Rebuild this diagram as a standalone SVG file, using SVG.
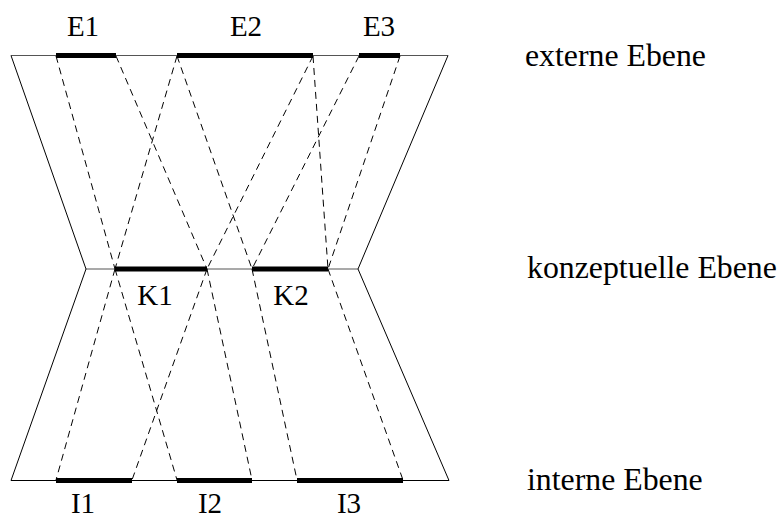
<svg xmlns="http://www.w3.org/2000/svg" width="779" height="519" viewBox="0 0 779 519">
<style>
.frame{stroke:#000;stroke-width:1;fill:none}
.lvl{stroke:#555;stroke-width:1.2;fill:none}
.bar{stroke:#000;stroke-width:5;fill:none}
.map{stroke:#000;stroke-width:1;stroke-dasharray:7 5;fill:none}
.t{font-family:'Liberation Serif','Tinos','Times New Roman','DejaVu Serif',serif;font-size:29px;fill:#000}
.lab{text-anchor:middle}
.lv{font-size:31.8px}
</style>
<rect width="779" height="519" fill="#fff"/>
<g id="frame">
<line class="lvl" x1="11" y1="55.5" x2="448" y2="55.5"/>
<line class="lvl" x1="86" y1="269" x2="358" y2="269"/>
<line class="frame" x1="11" y1="480.5" x2="449" y2="480.5"/>
<polyline class="frame" points="11,55.5 86,269 11,480.5"/>
<polyline class="frame" points="448,55.5 358,269 449,480.5"/>
</g>
<g id="connectors">
<line class="map" x1="56" y1="56" x2="115" y2="269"/>
<line class="map" x1="116" y1="56" x2="207" y2="269"/>
<line class="map" x1="177" y1="56" x2="115" y2="269"/>
<line class="map" x1="177" y1="56" x2="252" y2="269"/>
<line class="map" x1="313" y1="56" x2="207" y2="269"/>
<line class="map" x1="313" y1="56" x2="328" y2="269"/>
<line class="map" x1="359" y1="56" x2="252" y2="269"/>
<line class="map" x1="400" y1="56" x2="328" y2="269"/>
<line class="map" x1="115" y1="269" x2="56" y2="480"/>
<line class="map" x1="115" y1="269" x2="177" y2="480"/>
<line class="map" x1="207" y1="269" x2="132" y2="480"/>
<line class="map" x1="207" y1="269" x2="252" y2="480"/>
<line class="map" x1="252" y1="269" x2="297" y2="480"/>
<line class="map" x1="328" y1="269" x2="403" y2="480"/>
</g>
<g id="E1"><line class="bar" x1="56" y1="55.5" x2="116" y2="55.5"/><text class="t lab" x="83" y="36">E1</text></g>
<g id="E2"><line class="bar" x1="177" y1="55.5" x2="313" y2="55.5"/><text class="t lab" x="246" y="36">E2</text></g>
<g id="E3"><line class="bar" x1="359" y1="55.5" x2="400" y2="55.5"/><text class="t lab" x="379" y="36">E3</text></g>
<g id="K1"><line class="bar" x1="115" y1="269" x2="207" y2="269"/><text class="t lab" x="155" y="305">K1</text></g>
<g id="K2"><line class="bar" x1="252" y1="269" x2="328" y2="269"/><text class="t lab" x="291" y="305">K2</text></g>
<g id="I1"><line class="bar" x1="56" y1="480.5" x2="132" y2="480.5"/><text class="t lab" x="83" y="513">I1</text></g>
<g id="I2"><line class="bar" x1="177" y1="480.5" x2="252" y2="480.5"/><text class="t lab" x="210" y="513">I2</text></g>
<g id="I3"><line class="bar" x1="297" y1="480.5" x2="403" y2="480.5"/><text class="t lab" x="349" y="513">I3</text></g>
<g id="levels">
<text class="t lv" x="525" y="66">externe Ebene</text>
<text class="t lv" x="527" y="278">konzeptuelle Ebene</text>
<text class="t lv" x="527" y="490">interne Ebene</text>
</g>
</svg>
